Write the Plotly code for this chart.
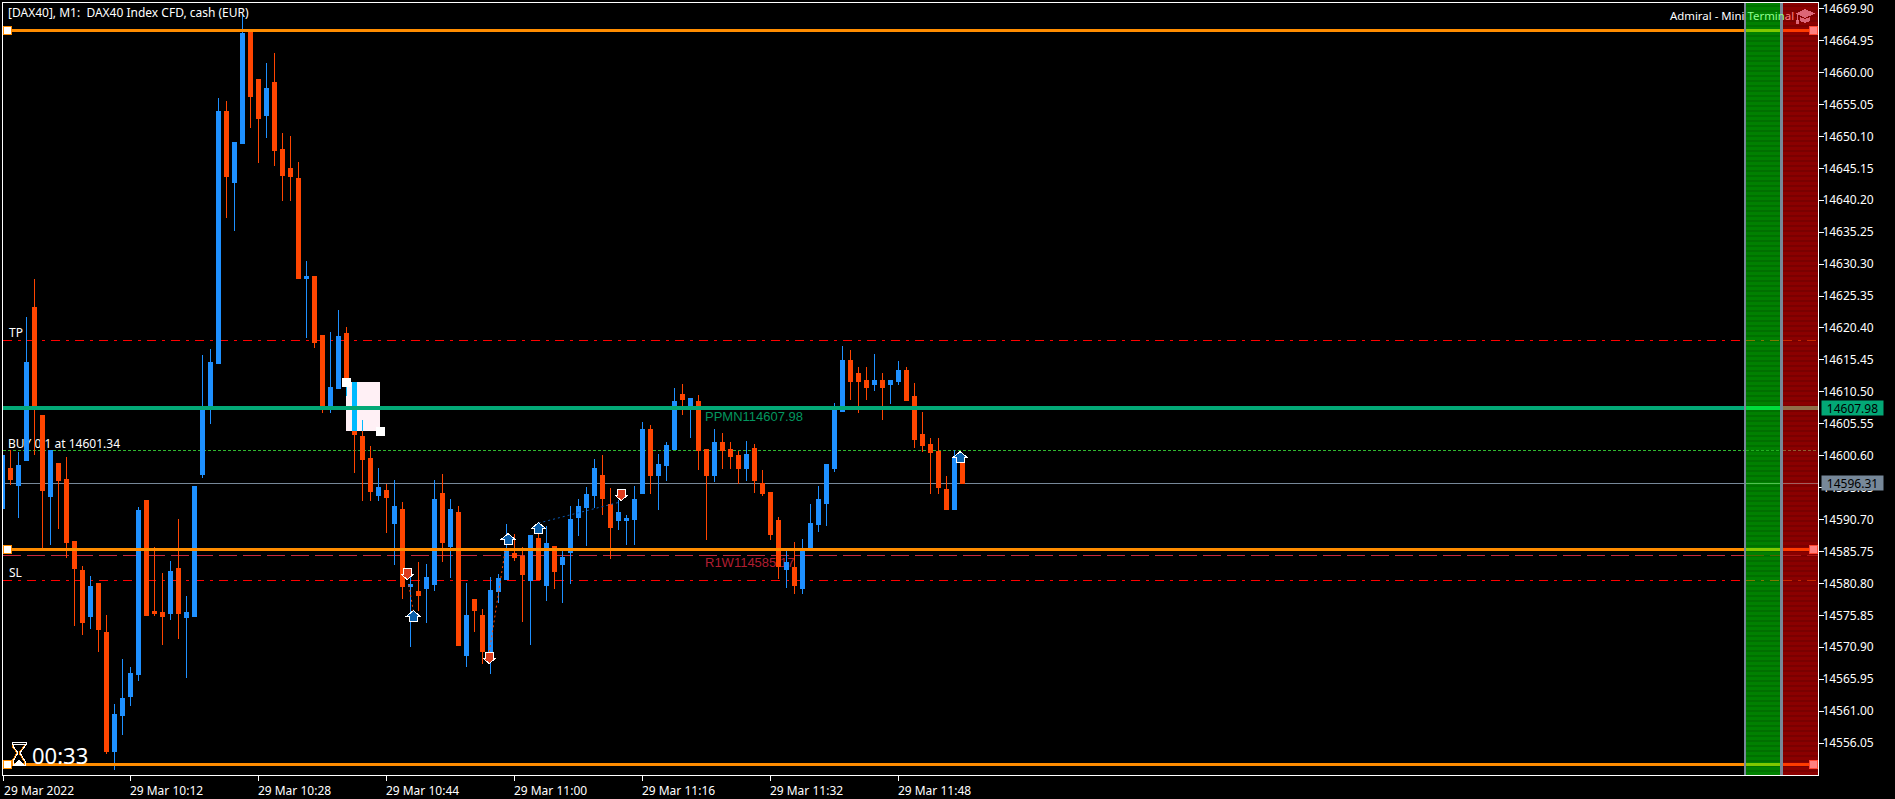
import pandas as pd
import plotly.graph_objects as go

# ---------- data ----------
opens = [14592.48,14598.68,14596.05,14599.92,14623.64,14606.90,14594.34,14599.46,14596.98,14587.36,14582.87,14575.74,14580.85,14573.25,14554.80,14560.39,14563.33,14566.74,14593.72,14576.51,14576.36,14576.20,14583.18,14575.58,14575.74,14597.75,14608.45,14614.96,14654.03,14643.02,14649.07,14666.59,14658.99,14653.41,14658.53,14648.14,14645.19,14643.64,14628.14,14628.45,14619.30,14608.29,14611.08,14619.61,14612.01,14603.64,14600.23,14594.50,14595.27,14590.15,14592.32,14580.39,14579.61,14580.08,14580.70,14594.81,14586.59,14591.86,14569.69,14578.37,14575.89,14569.69,14579.61,14581.47,14585.50,14585.04,14581.32,14587.83,14580.54,14586.59,14583.80,14585.66,14591.08,14592.63,14594.50,14597.60,14593.10,14590.62,14590.62,14590.77,14594.81,14604.73,14597.60,14599.15,14601.63,14610.15,14608.45,14609.07,14601.63,14597.60,14602.71,14601.63,14600.70,14598.68,14601.78,14596.36,14594.96,14590.62,14583.02,14583.33,14580.08,14585.97,14590.00,14593.26,14598.68,14607.52,14615.43,14613.41,14612.32,14611.70,14612.32,14611.70,14612.17,14613.88,14609.84,14603.95,14602.40,14601.32,14595.42,14592.32,14600.23]
highs = [14600.70,14601.47,14601.16,14622.09,14627.98,14606.90,14601.47,14599.46,14600.39,14587.36,14583.49,14581.94,14580.85,14575.89,14562.09,14569.07,14567.83,14592.63,14593.72,14586.43,14582.40,14584.26,14590.77,14578.84,14595.89,14616.20,14617.13,14656.05,14655.58,14649.22,14669.07,14666.59,14658.99,14661.47,14663.02,14650.62,14650.15,14646.12,14630.77,14628.45,14619.30,14619.77,14623.18,14620.54,14612.01,14606.12,14602.09,14598.68,14596.20,14596.82,14593.41,14581.78,14584.11,14583.80,14596.82,14597.75,14593.88,14592.79,14580.85,14578.37,14576.82,14581.78,14582.25,14590.00,14588.45,14586.43,14588.29,14588.60,14589.69,14586.59,14585.97,14592.79,14593.88,14595.74,14600.08,14600.70,14595.58,14593.72,14591.39,14595.89,14605.81,14605.35,14600.85,14602.71,14611.08,14611.70,14609.53,14610.00,14601.63,14604.73,14604.11,14602.71,14601.32,14602.87,14602.40,14598.37,14594.96,14591.08,14586.12,14587.21,14587.67,14593.10,14595.89,14599.30,14608.76,14617.60,14616.98,14614.34,14614.34,14616.36,14613.41,14612.32,14615.27,14614.34,14611.86,14607.36,14603.33,14603.33,14597.44,14601.47,14600.70]
lows = [14592.48,14596.05,14590.93,14599.92,14600.70,14585.97,14586.74,14589.22,14584.73,14574.18,14572.79,14573.72,14570.15,14554.34,14551.86,14557.29,14561.78,14565.66,14575.89,14575.74,14571.24,14575.12,14572.17,14566.12,14575.74,14597.13,14605.50,14614.96,14637.44,14635.43,14649.07,14651.39,14645.97,14649.84,14645.50,14640.08,14640.08,14628.14,14618.84,14617.29,14607.21,14607.21,14611.08,14609.84,14597.91,14593.56,14593.56,14593.56,14588.60,14583.64,14578.37,14570.93,14576.51,14574.65,14579.61,14584.11,14581.63,14571.24,14567.83,14573.25,14568.29,14566.74,14577.75,14581.47,14584.26,14574.81,14571.24,14581.47,14578.06,14579.92,14577.75,14580.70,14588.14,14586.59,14592.48,14591.39,14584.57,14589.07,14586.74,14586.74,14594.65,14594.65,14592.17,14596.67,14601.63,14606.90,14603.33,14598.37,14587.52,14596.51,14598.53,14598.53,14596.20,14596.67,14594.81,14594.34,14587.52,14581.47,14580.08,14579.15,14579.15,14585.97,14588.76,14589.69,14598.06,14607.52,14609.22,14607.21,14609.22,14610.62,14606.12,14608.60,14611.55,14609.22,14601.78,14601.16,14594.65,14594.65,14592.17,14592.32,14596.31]
closes = [14600.70,14596.98,14599.15,14615.12,14608.29,14595.27,14601.47,14596.82,14587.21,14583.18,14574.81,14580.39,14573.72,14554.80,14560.54,14563.02,14566.90,14592.17,14575.89,14576.20,14575.74,14582.71,14576.20,14576.36,14595.89,14607.98,14615.12,14654.03,14643.95,14649.22,14666.12,14656.36,14652.95,14657.60,14647.98,14644.11,14643.95,14628.14,14628.45,14618.22,14608.29,14611.24,14619.15,14612.32,14603.95,14600.08,14595.12,14595.74,14594.19,14592.79,14580.39,14580.70,14578.99,14581.78,14593.88,14587.21,14592.32,14571.24,14575.89,14576.67,14570.31,14579.77,14581.63,14586.12,14584.88,14582.25,14588.29,14581.47,14587.05,14582.71,14584.88,14590.77,14592.79,14594.65,14598.68,14594.03,14589.53,14591.86,14590.93,14593.88,14604.73,14597.60,14599.30,14602.25,14609.07,14609.38,14609.53,14601.47,14597.60,14602.71,14601.47,14600.54,14598.68,14600.85,14596.82,14594.81,14588.45,14583.49,14584.11,14580.54,14586.12,14590.15,14593.88,14599.30,14607.67,14615.43,14612.17,14612.17,14611.24,14612.32,14611.24,14612.32,14613.88,14609.22,14603.18,14602.25,14601.16,14595.74,14592.32,14600.39,14596.31]

start_time = "2022-03-29 09:56:00"
y_ticks = [14669.90,14664.95,14660.00,14655.05,14650.10,14645.15,14640.20,14635.25,14630.30,14625.35,14620.40,14615.45,14610.50,14605.55,14600.60,14595.65,14590.70,14585.75,14580.80,14575.85,14570.90,14565.95,14561.00,14556.05]
x_tick_times = ["2022-03-29 09:56:04","2022-03-29 10:12:00","2022-03-29 10:28:00","2022-03-29 10:44:00","2022-03-29 11:00:00","2022-03-29 11:16:00","2022-03-29 11:32:00","2022-03-29 11:48:00"]
x_tick_labels = ["29 Mar 2022","29 Mar 10:12","29 Mar 10:28","29 Mar 10:44","29 Mar 11:00","29 Mar 11:16","29 Mar 11:32","29 Mar 11:48"]

orange_levels = [14666.54, 14586.08, 14552.74]
pivot_level = 14607.98
support_level = 14585.15
take_profit = 14618.5
stop_loss = 14581.27
buy_price = 14601.34
last_price = 14596.31

# trade arrows: minutes after start, price, direction
arrow_minutes = [50.6, 51.35, 60.85, 63.2, 67.0, 77.35, 119.7]
arrow_prices = [14582.32, 14575.66, 14569.30, 14587.60, 14589.30, 14594.57, 14600.31]
arrow_dirs = ["down", "up", "down", "up", "up", "down", "up"]
trade_lines = [
    ([50.8, 51.35], [14580.54, 14576.51], "#FF4500"),
    ([60.85, 62.8], [14570.15, 14585.66], "#FF4500"),
    ([67.0, 77.2], [14590.15, 14593.41], "#0A5AB4"),
]
# selection rectangle object
rect_minutes = [42.94, 47.19]
rect_prices = [14612.01, 14604.42]

BLUE = "#1E90FF"
ORANGE = "#FF4500"
LINE_ORANGE = "#FF8C00"
PIVOT = "#03A876"
SLATE = "#778899"
SANS = "Noto Sans, Liberation Sans, sans-serif"

# ---------- geometry ----------
W, H = 1895, 799
ML, MT, MR, MB = 3, 3, 77, 24
PW, PH = W - ML - MR, H - MT - MB


def px(x):
    return (x - ML) / PW


def py(y):
    return 1 - (y - MT) / PH


def at(minutes):
    return pd.Timestamp(start_time) + pd.Timedelta(minutes=minutes)


times = pd.date_range(start_time, periods=len(opens), freq="min")
x_range = [at(0.0625), at(226.9375)]
y_range = [14551.09, 14670.78]

fig = go.Figure()
fig.add_trace(go.Candlestick(
    x=times, open=opens, high=highs, low=lows, close=closes,
    increasing=dict(line=dict(color=BLUE, width=1), fillcolor=BLUE),
    decreasing=dict(line=dict(color=ORANGE, width=1), fillcolor=ORANGE),
    whiskerwidth=0, showlegend=False, hoverinfo="skip",
))
for xs, ys, color in trade_lines:
    fig.add_trace(go.Scatter(
        x=[at(m) for m in xs], y=ys, mode="lines", showlegend=False, hoverinfo="skip",
        line=dict(color=color, width=1, dash="2px,3px"),
    ))

shapes = []
annotations = []


def hline(y, x0, x1, color, width, dash="solid", layer="below"):
    shapes.append(dict(type="line", xref="paper", yref="y", x0=x0, x1=x1, y0=y, y1=y, layer=layer,
                       line=dict(color=color, width=width, dash=dash)))


def box(x0, x1, y0, y1, fill, line=None, lw=0, layer="above"):
    shapes.append(dict(type="rect", xref="paper", yref="paper", x0=px(x0), x1=px(x1), y0=py(y0), y1=py(y1),
                       layer=layer, fillcolor=fill, line=dict(color=line or fill, width=lw)))


def below_label(text, x, y, color, size, family=SANS):
    shapes.append(dict(type="rect", xref="paper", yref="paper", x0=px(x), x1=px(x + 170), y0=py(y - 9), y1=py(y + 9),
                       layer="below", fillcolor="rgba(0,0,0,0)", line=dict(width=0),
                       label=dict(text=text, textposition="middle left", padding=0,
                                  font=dict(color=color, size=size, family=family))))


MAIN_END = px(1744)
DASHDOT = "9px,6px,3px,6px"

# levels behind the candles
hline(take_profit, 0, MAIN_END, "#FF0000", 1, DASHDOT)
hline(stop_loss, 0, MAIN_END, "#FF0000", 1, DASHDOT)
hline(support_level, 0, MAIN_END, "#C8283C", 1, "18px,6px")
hline(buy_price, 0, MAIN_END, "#2EB82E", 1, "3px,2px")
hline(last_price, 0, MAIN_END, SLATE, 1)

below_label("TP", 6, 333.7, "#FFFFFF", 12)
below_label("BUY 0.1 at 14601.34", 5, 444.5, "#FFFFFF", 12)
below_label("SL", 6, 573.7, "#FFFFFF", 12)
below_label("R1W114585.17", 702, 561.5, "#B01E32", 13, "Liberation Sans")
below_label("PPMN114607.98", 702, 415, "#03965F", 13, "Liberation Sans")

# selection rectangle with inverted candle parts
shapes.append(dict(type="rect", xref="x", yref="y", x0=at(rect_minutes[0]), x1=at(rect_minutes[1]),
                   y0=rect_prices[1], y1=rect_prices[0], layer="above",
                   fillcolor="#FFF0F5", line=dict(width=0)))
shapes.append(dict(type="line", xref="x", yref="y", x0=at(44), x1=at(44), y0=rect_prices[1], y1=opens[44],
                   layer="above", line=dict(color="#00BAFF", width=5)))
shapes.append(dict(type="line", xref="x", yref="y", x0=at(43), x1=at(43), y0=lows[43], y1=closes[43],
                   layer="above", line=dict(color="#00BAFF", width=1)))
shapes.append(dict(type="line", xref="x", yref="y", x0=at(45), x1=at(45), y0=rect_prices[1], y1=highs[45],
                   layer="above", line=dict(color="#00BAFF", width=1)))
box(342, 351, 378, 387, "#FFFFFF")
box(376, 385, 427, 436, "#FFFFFF")

# panels on the right
box(1744, 1746, 3, 775, SLATE)
box(1746, 1780, 3, 775, "#008000")
box(1780, 1783, 3, 775, SLATE)
box(1783, 1817.5, 3, 775, "#8B0000")


def stripe_path(x0, x1):
    parts = []
    for y in range(5, 775, 5):
        parts.append(f"M{px(x0)},{py(y)}L{px(x1)},{py(y)}L{px(x1)},{py(y + 2)}L{px(x0)},{py(y + 2)}Z")
    return "".join(parts)


shapes.append(dict(type="path", xref="paper", yref="paper", path=stripe_path(1746, 1780),
                   fillcolor="#007000", line=dict(width=0), layer="above"))
shapes.append(dict(type="path", xref="paper", yref="paper", path=stripe_path(1783, 1817.5),
                   fillcolor="#7A0000", line=dict(width=0), layer="above"))

G0, G1, R0, R1 = px(1746), px(1780), px(1783), px(1817.5)
for level, gc, rc, width, dash in [
    (take_profit, "#807800", "#C82800", 1, DASHDOT),
    (stop_loss, "#807800", "#C82800", 1, DASHDOT),
    (support_level, "#506400", "#B01818", 1, "18px,6px"),
    (buy_price, "#20B020", "#906030", 1, "3px,2px"),
    (last_price, "#50C050", "#A06060", 1, "solid"),
    (pivot_level, "#00DC3C", "#90704A", 4, "solid"),
]:
    hline(level, G0, G1, gc, width, dash, "above")
    hline(level, R0, R1, rc, width, dash, "above")

# thick levels over the candles
hline(pivot_level, 0, MAIN_END, PIVOT, 4, layer="above")
for level in orange_levels:
    hline(level, 0, MAIN_END, LINE_ORANGE, 3, layer="above")
    hline(level, G0, G1, "#80C800", 3, layer="above")
    hline(level, R0, R1, "#FF3C00", 3, layer="above")
    shapes.append(dict(type="rect", xref="paper", yref="y", xsizemode="pixel", xanchor=px(3.5), x0=0, x1=8,
                       ysizemode="pixel", yanchor=level, y0=-4, y1=4, layer="above",
                       fillcolor="#FFFFFF", line=dict(color=LINE_ORANGE, width=1)))
    shapes.append(dict(type="rect", xref="paper", yref="y", xsizemode="pixel", xanchor=px(1809), x0=0, x1=8,
                       ysizemode="pixel", yanchor=level, y0=-4, y1=4, layer="above",
                       fillcolor="#FF8080", line=dict(color="#FF4632", width=1)))

# trade arrows
UP_PATH = "M0,6L6.5,0.5L4,0.5L4,-5L-4,-5L-4,0.5L-6.5,0.5Z"
DOWN_PATH = "M0,-6L6.5,-0.5L4,-0.5L4,5L-4,5L-4,-0.5L-6.5,-0.5Z"
for minute, price, direction in zip(arrow_minutes, arrow_prices, arrow_dirs):
    shapes.append(dict(type="path", xref="x", yref="y", xsizemode="pixel", ysizemode="pixel",
                       xanchor=at(minute), yanchor=price,
                       path=UP_PATH if direction == "up" else DOWN_PATH, layer="above",
                       fillcolor="#0A5FAA" if direction == "up" else "#DC3C1E",
                       line=dict(color="#FFFFFF", width=1)))


def pixel_path(points, close=True):
    s = "".join(("M" if i == 0 else "L") + f"{px(x)},{py(y)}" for i, (x, y) in enumerate(points))
    return s + ("Z" if close else "")


# hourglass
glass = [(13, 744), (25, 744), (25, 746), (20, 753), (25, 761), (25, 765), (13, 765), (13, 761), (18, 753), (13, 746)]
shapes.append(dict(type="path", xref="paper", yref="paper", layer="above",
                   path=pixel_path([(x - 1, y) for x, y in glass]), line=dict(color=LINE_ORANGE, width=1)))
shapes.append(dict(type="path", xref="paper", yref="paper", layer="above",
                   path=pixel_path(glass), line=dict(color="#FFFFFF", width=1)))
shapes.append(dict(type="path", xref="paper", yref="paper", layer="above",
                   path=pixel_path([(14, 765), (19, 760), (24, 765)]), fillcolor="#FFFFFF", line=dict(color="#FFFFFF", width=1)))
shapes.append(dict(type="path", xref="paper", yref="paper", layer="above",
                   path=pixel_path([(12, 742), (26, 742), (26, 744), (12, 744)]), line=dict(color="#FFFFFF", width=1)))

# graduation cap
CAP = "rgba(235,120,140,0.85)"
shapes.append(dict(type="path", xref="paper", yref="paper", layer="above",
                   path=pixel_path([(1805, 9), (1815, 13.5), (1805, 18), (1796, 13.5)]), fillcolor=CAP, line=dict(width=0)))
shapes.append(dict(type="path", xref="paper", yref="paper", layer="above",
                   path=pixel_path([(1800, 17), (1805, 19), (1810, 17), (1810, 21), (1805, 23), (1800, 21)]), fillcolor=CAP, line=dict(width=0)))
shapes.append(dict(type="path", xref="paper", yref="paper", layer="above",
                   path=pixel_path([(1797, 14), (1797, 21)], close=False), line=dict(color=CAP, width=1)))
box(1796, 1799, 20, 24, CAP)


def text(t, x, y, size=12, color="#FFFFFF", family=SANS, anchor="left"):
    annotations.append(dict(text=t, xref="paper", yref="paper", x=px(x), y=py(y), xanchor=anchor, yanchor="middle",
                            showarrow=False, font=dict(size=size, color=color, family=family), borderpad=0, borderwidth=0))


text("[DAX40], M1:\u00a0\u00a0DAX40 Index CFD, cash (EUR)", 8, 12)
text("Admiral - Mini <span style='color:#90FF90'>Termin</span><span style='color:#FF8080'>al</span>", 1670, 16, size=11.4)
text("00:33", 32, 755, size=22)

for value, bg in [(pivot_level, PIVOT), (last_price, SLATE)]:
    annotations.append(dict(text=f"{value:.2f}", xref="paper", yref="y", x=px(1821), y=value, xanchor="left", yanchor="middle",
                            width=61, height=14, align="center", bgcolor=bg, showarrow=False, borderpad=0,
                            font=dict(size=12, color="#000000", family=SANS)))

fig.update_layout(
    width=W, height=H, autosize=False,
    margin=dict(l=ML, t=MT, r=MR, b=MB, pad=0, autoexpand=False),
    paper_bgcolor="#000000", plot_bgcolor="#000000",
    showlegend=False, boxgap=0.5, boxgroupgap=0,
    font=dict(family=SANS, size=12, color="#FFFFFF"),
    shapes=shapes, annotations=annotations,
    xaxis=dict(
        type="date", range=x_range, rangeslider=dict(visible=False), showgrid=False, zeroline=False,
        showline=True, mirror=True, linecolor="#FFFFFF", linewidth=1,
        tickmode="array", tickvals=x_tick_times, ticktext=x_tick_labels,
        ticks="outside", ticklen=5, tickwidth=1, tickcolor="#FFFFFF", ticklabelshift=36,
        tickfont=dict(size=12, color="#FFFFFF", family=SANS),
    ),
    yaxis=dict(
        range=y_range, side="right", showgrid=False, zeroline=False,
        showline=True, mirror=True, linecolor="#FFFFFF", linewidth=1,
        tickmode="array", tickvals=y_ticks, ticktext=[f"{v:.2f}" for v in y_ticks],
        ticks="outside", ticklen=5, tickwidth=1, tickcolor="#FFFFFF", ticklabelstandoff=-4,
        ticklabeloverflow="allow",
        tickfont=dict(size=12, color="#FFFFFF", family=SANS),
    ),
)

post = (
    "document.body.style.margin='0';document.body.style.background='#000';document.body.style.overflow='hidden';"
    "var s=document.createElement('style');"
    "s.textContent='.boxlayer path,.shapelayer path{shape-rendering:crispEdges}';"
    "document.head.appendChild(s);"
)
fig.write_html("out.html", config={"displayModeBar": False}, post_script=post)
